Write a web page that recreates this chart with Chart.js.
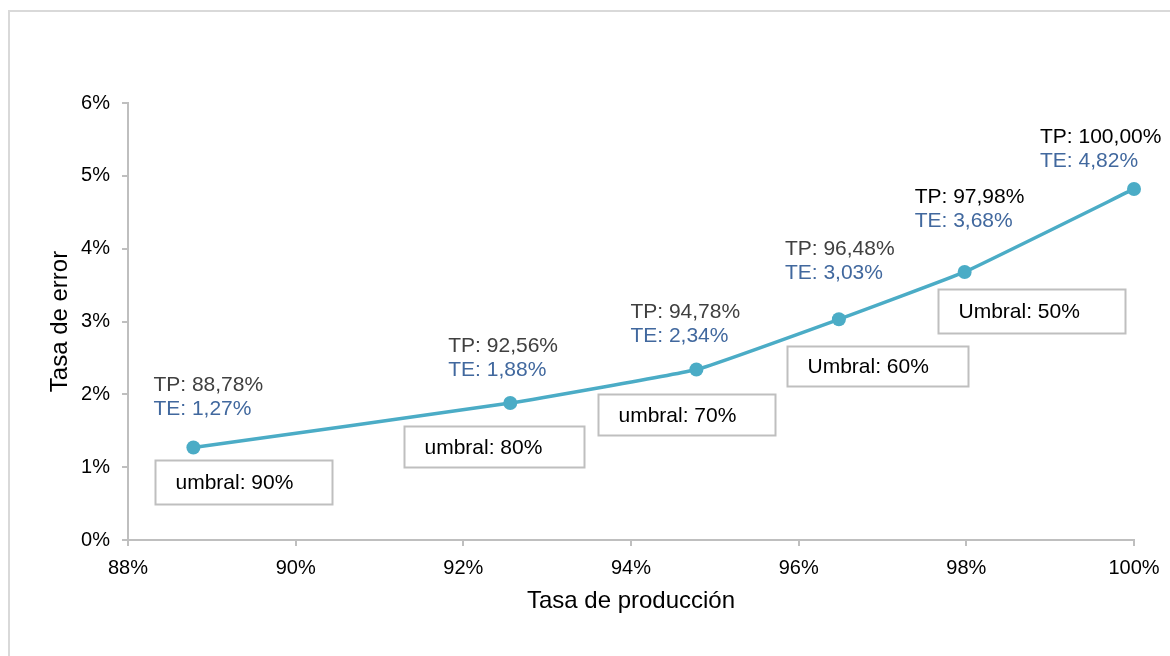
<!DOCTYPE html>
<html>
<head>
<meta charset="utf-8">
<script src="https://cdn.jsdelivr.net/npm/chart.js@4"></script>
<style>
  body { margin: 0; background: #ffffff; }
  #wrap { position: relative; width: 1170px; height: 656px; }
</style>
</head>
<body>
<div id="wrap"><canvas id="errorChart"></canvas></div>
<script>
// Tasa de producción (TP) vs tasa de error (TE) por umbral
const produccion = [88.78, 92.56, 94.78, 96.48, 97.98, 100.0];
const error = [1.27, 1.88, 2.34, 3.03, 3.68, 4.82];
const umbrales = ["umbral: 90%", "umbral: 80%", "umbral: 70%", "Umbral: 60%", "Umbral: 50%", null];
const xTicks = [88, 90, 92, 94, 96, 98, 100];
const yTicks = [0, 1, 2, 3, 4, 5, 6];

const FONT = "'Liberation Sans', Arial, sans-serif";
const fmt = (v) => v.toFixed(2).replace(".", ",") + "%";

// label placement relative to each point (px)
const tpOffsets = [[-40, -62], [-62, -57], [-66, -57], [-54, -70], [-50, -75], [-94, -52]];
const boxOffsets = [[-38, 12, 177, 44], [-106, 23, 180, 41], [-98, 24, 177, 41], [-52, 27, 181, 40], [-27, 17, 187, 44]];
const tpColors = ["#404040", "#404040", "#404040", "#404040", "#000000", "#000000"];

const framePlugin = {
  id: "frame",
  beforeDraw(chart) {
    const ctx = chart.ctx;
    ctx.save();
    ctx.fillStyle = "#d9d9d9";
    ctx.fillRect(8, 10, chart.width - 8, 2);
    ctx.fillRect(8, 10, 2, chart.height - 10);
    ctx.restore();
  },
};

const pointLabels = {
  id: "pointLabels",
  afterDatasetsDraw(chart) {
    const ctx = chart.ctx;
    const meta = chart.getDatasetMeta(0);
    ctx.save();
    ctx.font = "21px " + FONT;
    ctx.textBaseline = "middle";
    ctx.textAlign = "left";
    meta.data.forEach((pt, i) => {
      const [dx, dy] = tpOffsets[i];
      ctx.fillStyle = tpColors[i];
      ctx.fillText("TP: " + fmt(produccion[i]), pt.x + dx, pt.y + dy);
      ctx.fillStyle = "#41689e";
      ctx.fillText("TE: " + fmt(error[i]), pt.x + dx, pt.y + dy + 24);

      if (umbrales[i]) {
        const [bx, by, bw, bh] = boxOffsets[i];
        const x0 = Math.round(pt.x + bx) + 0.5;
        const y0 = Math.round(pt.y + by) + 0.5;
        ctx.fillStyle = "#ffffff";
        ctx.fillRect(x0, y0, bw, bh);
        ctx.strokeStyle = "#bfbfbf";
        ctx.lineWidth = 2;
        ctx.strokeRect(x0, y0, bw, bh);
        ctx.fillStyle = "#000000";
        ctx.fillText(umbrales[i], x0 + 20, y0 + bh / 2 + 1);
      }
    });
    ctx.restore();
  },
};

const ctx = document.getElementById("errorChart").getContext("2d");
new Chart(ctx, {
  type: "line",
  data: {
    datasets: [
      {
        data: produccion.map((x, i) => ({ x: x, y: error[i] })),
        borderColor: "#4bacc6",
        backgroundColor: "#4bacc6",
        borderWidth: 3.5,
        pointRadius: 7,
        pointHoverRadius: 7,
        pointBorderWidth: 0,
        tension: 0.1,
        clip: false,
      },
    ],
  },
  options: {
    responsive: true,
    maintainAspectRatio: false,
    animation: false,
    layout: { padding: { top: 103, right: 36, bottom: 0, left: 0 } },
    plugins: { legend: { display: false }, tooltip: { enabled: false } },
    scales: {
      x: {
        type: "linear",
        min: xTicks[0],
        max: xTicks[xTicks.length - 1],
        afterBuildTicks: (scale) => {
          scale.ticks = xTicks.map((v) => ({ value: v }));
        },
        afterFit: (scale) => {
          scale.height = 116;
        },
        ticks: {
          padding: 10,
          color: "#000000",
          font: { family: FONT, size: 20 },
          callback: (v) => v + "%",
        },
        grid: { drawOnChartArea: false, color: "#bfbfbf", tickLength: 6, lineWidth: 2 },
        border: { color: "#bfbfbf", width: 2 },
        title: {
          display: true,
          text: "Tasa de producción",
          color: "#000000",
          font: { family: FONT, size: 24 },
          padding: { top: 0, bottom: 40 },
        },
      },
      y: {
        min: yTicks[0],
        max: yTicks[yTicks.length - 1],
        afterBuildTicks: (scale) => {
          scale.ticks = yTicks.map((v) => ({ value: v }));
        },
        afterFit: (scale) => {
          scale.width = 128;
        },
        ticks: {
          padding: 12,
          color: "#000000",
          font: { family: FONT, size: 20 },
          callback: (v) => v + "%",
        },
        grid: { drawOnChartArea: false, color: "#bfbfbf", tickLength: 6, lineWidth: 2 },
        border: { color: "#bfbfbf", width: 2 },
        title: {
          display: true,
          text: "Tasa de error",
          color: "#000000",
          font: { family: FONT, size: 24 },
          padding: { top: 46, bottom: 0 },
        },
      },
    },
  },
  plugins: [framePlugin, pointLabels],
});
</script>
</body>
</html>
